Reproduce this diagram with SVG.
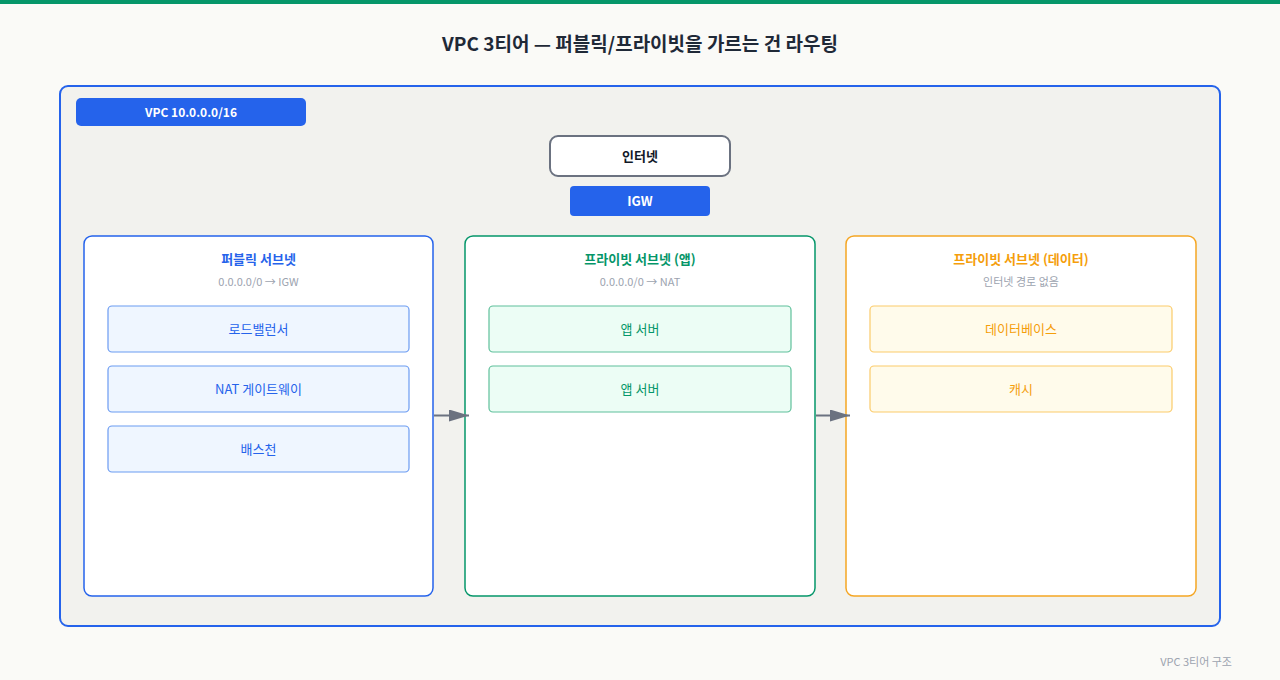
<svg xmlns="http://www.w3.org/2000/svg" width="1280" height="680" viewBox="0 0 1280 680">
<style>
text{font-family:"Noto Sans CJK KR","Noto Sans",sans-serif;text-anchor:middle;dominant-baseline:central}
.title{font-size:19px;font-weight:700;fill:#1f2937}
.sub{font-size:11px;fill:#9ca3af}
.stitle{font-size:13px;font-weight:700}
.item{font-size:13px}
.blue{fill:#2563eb}
.green{fill:#059669}
.orange{fill:#f59e0b}
.conn{stroke:#6b7280;stroke-width:2;fill:none}
</style>
<defs>
<marker id="arr" viewBox="0 0 20 12" refX="20" refY="6" markerWidth="20" markerHeight="12" markerUnits="userSpaceOnUse" orient="auto">
<path d="M0,0 L20,6 L0,12 z" fill="#6b7280"/>
</marker>
</defs>
<rect width="1280" height="680" fill="#fafaf7"/>
<rect width="1280" height="4" fill="#059669"/>
<text class="title" x="640" y="42">VPC 3티어 — 퍼블릭/프라이빗을 가르는 건 라우팅</text>
<g id="vpc">
<rect x="60" y="86" width="1160" height="540" rx="8" fill="#f2f2ee" stroke="#2563eb" stroke-width="2"/>
<rect x="76" y="98" width="230" height="28" rx="5" fill="#2563eb"/>
<text x="191" y="111" style="font-size:12px;font-weight:700;fill:#fff">VPC 10.0.0.0/16</text>
</g>
<g id="internet">
<rect x="550" y="136" width="180" height="40" rx="8" fill="#fff" stroke="#6b7280" stroke-width="2"/>
<text x="640" y="155" style="font-size:13px;font-weight:700;fill:#111827">인터넷</text>
</g>
<g id="igw">
<rect x="570" y="186" width="140" height="30" rx="4" fill="#2563eb"/>
<text x="640" y="200" style="font-size:13px;font-weight:700;fill:#fff">IGW</text>
</g>
<g id="public">
<rect x="84" y="236" width="349" height="360" rx="8" fill="#fff" stroke="#2563eb" stroke-width="1.5"/>
<text class="stitle blue" x="258.5" y="258">퍼블릭 서브넷</text>
<text class="sub" x="258.5" y="281">0.0.0.0/0 → IGW</text>
</g>
<g id="lb">
<rect x="108" y="306" width="301" height="46" rx="4" fill="#eff6ff" stroke="#6b9bf2" stroke-width="1.2"/>
<text class="item blue" x="258.5" y="328">로드밸런서</text>
</g>
<g id="nat">
<rect x="108" y="366" width="301" height="46" rx="4" fill="#eff6ff" stroke="#6b9bf2" stroke-width="1.2"/>
<text class="item blue" x="258.5" y="388">NAT 게이트웨이</text>
</g>
<g id="bastion">
<rect x="108" y="426" width="301" height="46" rx="4" fill="#eff6ff" stroke="#6b9bf2" stroke-width="1.2"/>
<text class="item blue" x="258.5" y="448">배스천</text>
</g>
<g id="app">
<rect x="465" y="236" width="350" height="360" rx="8" fill="#fff" stroke="#059669" stroke-width="1.5"/>
<text class="stitle green" x="640" y="258">프라이빗 서브넷 (앱)</text>
<text class="sub" x="640" y="281">0.0.0.0/0 → NAT</text>
</g>
<g id="app1">
<rect x="489" y="306" width="302" height="46" rx="4" fill="#ecfdf5" stroke="#5fc09b" stroke-width="1.2"/>
<text class="item green" x="640" y="328">앱 서버</text>
</g>
<g id="app2">
<rect x="489" y="366" width="302" height="46" rx="4" fill="#ecfdf5" stroke="#5fc09b" stroke-width="1.2"/>
<text class="item green" x="640" y="388">앱 서버</text>
</g>
<g id="data">
<rect x="846" y="236" width="350" height="360" rx="8" fill="#fff" stroke="#f5a623" stroke-width="1.5"/>
<text class="stitle orange" x="1021" y="258">프라이빗 서브넷 (데이터)</text>
<text class="sub" x="1021" y="281">인터넷 경로 없음</text>
</g>
<g id="db">
<rect x="870" y="306" width="302" height="46" rx="4" fill="#fffbeb" stroke="#fbcb6a" stroke-width="1.2"/>
<text class="item orange" x="1021" y="328">데이터베이스</text>
</g>
<g id="cache">
<rect x="870" y="366" width="302" height="46" rx="4" fill="#fffbeb" stroke="#fbcb6a" stroke-width="1.2"/>
<text class="item orange" x="1021" y="388">캐시</text>
</g>
<g id="connectors">
<line class="conn" x1="434" y1="415.5" x2="469" y2="415.5" marker-end="url(#arr)"/>
<line class="conn" x1="816" y1="415.5" x2="850" y2="415.5" marker-end="url(#arr)"/>
</g>
<text x="1232" y="661" style="font-size:11px;fill:#9ca3af;text-anchor:end">VPC 3티어 구조</text>
</svg>
